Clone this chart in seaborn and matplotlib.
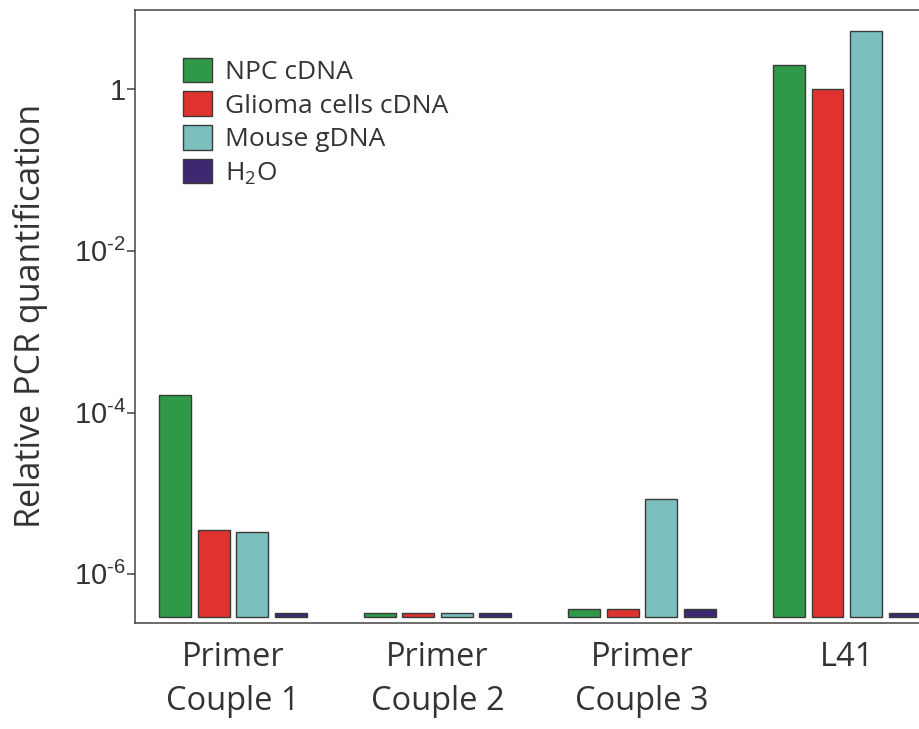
import matplotlib
matplotlib.use("Agg")
import matplotlib.pyplot as plt
from matplotlib.patches import Patch
import seaborn as sns
import pandas as pd

# ---- data ----
groups = ["Primer\nCouple 1", "Primer\nCouple 2", "Primer\nCouple 3", "L41"]
series = ["NPC cDNA", "Glioma cells cDNA", "Mouse gDNA", "H$_\\mathregular{2}$O"]
npc_cdna = [1.65e-4, 3.3e-7, 3.7e-7, 1.98]
glioma_cdna = [3.5e-6, 3.3e-7, 3.7e-7, 1.0]
mouse_gdna = [3.3e-6, 3.3e-7, 8.6e-6, 5.3]
h2o = [3.3e-7, 3.3e-7, 3.7e-7, 3.3e-7]
ytick_values = [1e-6, 1e-4, 1e-2, 1]
ytick_labels = ["$\\mathrm{10^{\u2010 6}}$", "$\\mathrm{10^{\u2010 4}}$",
                "$\\mathrm{10^{\u2010 2}}$", "$\\mathrm{1}$"]
y_label = "Relative PCR quantification"

# ---- style ----
colors = ["#2E9A48", "#E0322E", "#7BBFBE", "#3B2870"]
baseline = 2.94e-7
sns.set_theme(style="white")
plt.rcParams["font.family"] = ["Open Sans", "DejaVu Sans"]
plt.rcParams["mathtext.fontset"] = "custom"
plt.rcParams["mathtext.rm"] = "Liberation Sans"

rows = []
for name, vals in zip(series, [npc_cdna, glioma_cdna, mouse_gdna, h2o]):
    for g, v in zip(groups, vals):
        rows.append({"group": g, "series": name, "value": v})
df = pd.DataFrame(rows)

fig = plt.figure(figsize=(9.19, 7.29), dpi=100)
ax = fig.add_axes([134.5 / 919, (729 - 622.7) / 729, (919 - 134.5) / 919, (622.7 - 10) / 729])

sns.barplot(data=df, x="group", y="value", hue="series", order=groups,
            hue_order=series, palette=colors, width=0.753, gap=0.17,
            edgecolor="#3a3a3a", linewidth=1.0, legend=False, ax=ax,
            errorbar=None, saturation=1)

# bars start from a common floor on the log axis
for p in ax.patches:
    h = p.get_height()
    p.set_y(baseline)
    p.set_height(h - baseline)

ax.set_yscale("log")
ax.set_ylim(2.51e-7, 9.57)
ax.set_xlim(-0.481, 3.353)
ax.yaxis.set_major_locator(matplotlib.ticker.FixedLocator(ytick_values))
ax.yaxis.set_major_formatter(matplotlib.ticker.FixedFormatter(ytick_labels))
ax.yaxis.set_minor_locator(matplotlib.ticker.NullLocator())

for side in ["left", "bottom", "top"]:
    ax.spines[side].set_color("#444444")
    ax.spines[side].set_linewidth(1.1)
ax.spines["right"].set_visible(False)

ax.tick_params(axis="y", which="major", left=True, length=5.5, width=1.1,
               color="#444444", labelsize=21, labelcolor="#333333", pad=0.5)
ax.tick_params(axis="x", length=0, labelsize=23.5, labelcolor="#333333", pad=13)
for lbl in ax.get_xticklabels():
    lbl.set_linespacing(1.45)

ax.set_xlabel("")
ax.set_ylabel(y_label, fontsize=24.5, color="#333333", labelpad=18.5)

handles = [Patch(facecolor=c, edgecolor="#3a3a3a", linewidth=1.0) for c in colors]
ax.legend(handles, series, loc="upper left", bbox_to_anchor=(0.0614, 0.922),
          frameon=False, fontsize=19, handlelength=1.12, handleheight=1.06,
          labelspacing=0.24, handletextpad=0.5, borderaxespad=0, borderpad=0,
          labelcolor="#333333")

fig.savefig("out.png", dpi=100)
